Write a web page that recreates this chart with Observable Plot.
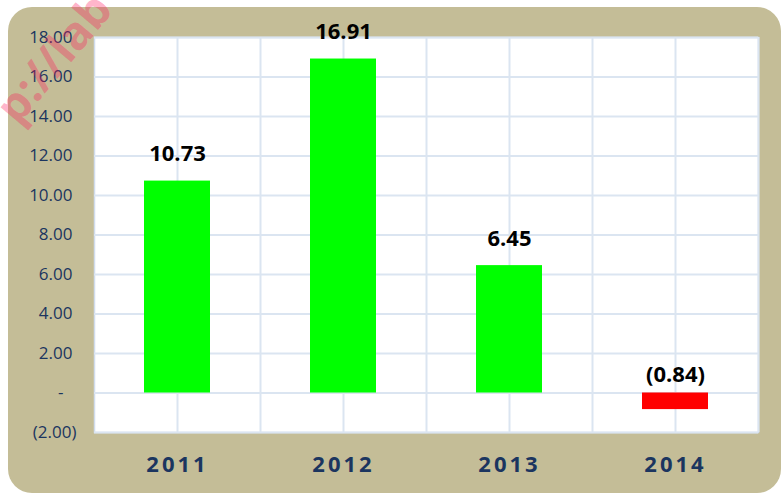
<!DOCTYPE html>
<html>
<head>
<meta charset="utf-8">
<script src="https://cdn.jsdelivr.net/npm/d3@7"></script>
<script src="https://cdn.jsdelivr.net/npm/@observablehq/plot@0.6"></script>
<style>
  html, body { margin: 0; padding: 0; background: #ffffff; }
  #wrap { position: relative; width: 781px; height: 495px; overflow: hidden; }
  #panel { position: absolute; left: 8px; top: 7px; width: 773px; height: 486px;
           background: #c4bd97; border-radius: 24px; }
  #chart { position: absolute; left: 0; top: 0; }
  #chart svg { background: transparent !important; }
  [aria-label="x-axis tick label"] { letter-spacing: 3px; }
  #wm { position: absolute; left: -14px; top: 100px; font: bold 46px/46px "Open Sans", sans-serif;
        color: rgba(255, 20, 90, 0.33); transform: rotate(-50deg); transform-origin: left top;
        white-space: nowrap; pointer-events: none; }
</style>
</head>
<body>
<div id="wrap">
  <div id="panel"></div>
  <div id="chart"></div>
  <div id="wm">p://lab</div>
</div>
<script>
const years = ["2011", "2012", "2013", "2014"];
const values = [10.73, 16.91, 6.45, -0.84];
const yTicks = [-2, 0, 2, 4, 6, 8, 10, 12, 14, 16, 18];

const data = years.map((y, i) => ({year: y, value: values[i]}));
const fmtVal = v => v < 0 ? `(${d3.format(".2f")(-v)})` : d3.format(".2f")(v);
const navy = "#1b355f";
const grid = "#dbe5f1";

const chart = Plot.plot({
  width: 781,
  height: 495,
  marginLeft: 94,
  marginRight: 23,
  marginTop: 37,
  marginBottom: 63,
  style: {background: "transparent", fontFamily: "'Open Sans', sans-serif"},
  x: {domain: years, paddingInner: 0.6, paddingOuter: 0.3},
  y: {domain: [-2, 18]},
  marks: [
    Plot.frame({fill: "#ffffff", stroke: "#d0dcec", strokeWidth: 1.5}),
    Plot.ruleY(yTicks, {stroke: grid, strokeWidth: 2}),
    Plot.ruleX(years, {stroke: grid, strokeWidth: 2}),
    Plot.ruleX(years, {stroke: grid, strokeWidth: 2, dx: 83}),
    Plot.barY(data, {x: "year", y: "value", fill: d => d.value < 0 ? "#ff0000" : "#00ff00"}),
    Plot.text(data.filter(d => d.value >= 0), {x: "year", y: "value", text: d => fmtVal(d.value),
      dy: -27, fontSize: 22, fontWeight: "bold", fill: "#000000"}),
    Plot.text(data.filter(d => d.value < 0), {x: "year", y: 0, text: d => fmtVal(d.value),
      dy: -18, fontSize: 22, fontWeight: "bold", fill: "#000000"}),
    Plot.axisY(yTicks.filter(t => t > 0), {tickSize: 0, tickPadding: 22, fontSize: 17, fill: navy,
      tickFormat: d3.format(".2f"), label: null}),
    Plot.axisY([0], {tickSize: 0, tickPadding: 31, fontSize: 17, fill: navy,
      tickFormat: () => "-", label: null}),
    Plot.axisY(yTicks.filter(t => t < 0), {tickSize: 0, tickPadding: 18, fontSize: 17, fill: navy,
      tickFormat: t => `(${d3.format(".2f")(-t)})`, label: null}),
    Plot.axisX({tickSize: 0, tickPadding: 24, fontSize: 22, fontWeight: "bold", fill: navy, label: null})
  ]
});
document.getElementById("chart").appendChild(chart);
</script>
</body>
</html>
